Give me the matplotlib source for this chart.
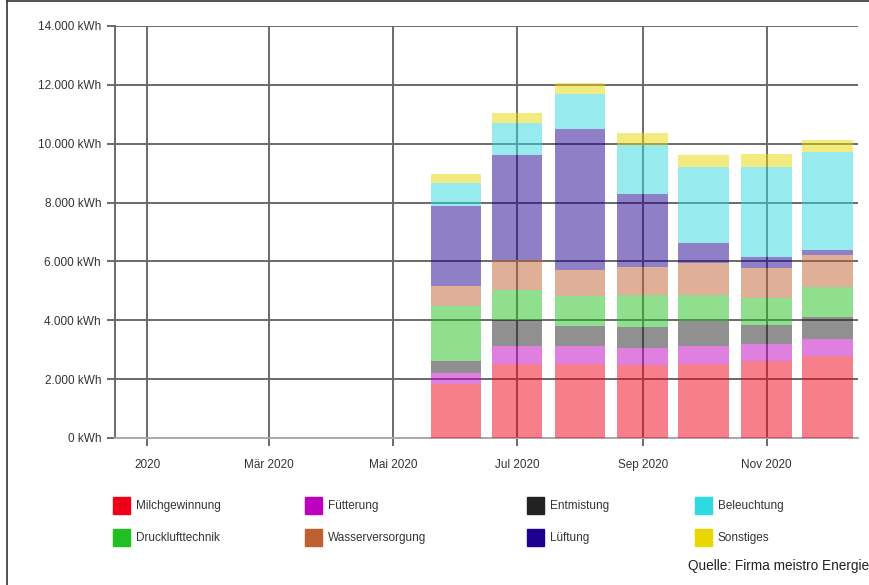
from datetime import datetime

import matplotlib
matplotlib.use('Agg')
import matplotlib.pyplot as plt
from matplotlib.lines import Line2D
from matplotlib.patches import Rectangle

# monthly energy use per consumer group (kWh), bars Jun..Dec 2020
months = [datetime(2020, m, 1) for m in range(6, 13)]
categories = ['Milchgewinnung', 'Fütterung', 'Entmistung', 'Drucklufttechnik',
              'Wasserversorgung', 'Lüftung', 'Beleuchtung', 'Sonstiges']

milch = [1850, 2520, 2520, 2480, 2520, 2600, 2780]
fuetterung = [350, 620, 590, 570, 620, 600, 590]
entmistung = [420, 880, 710, 720, 820, 650, 740]
druckluft = [1860, 1000, 990, 1100, 910, 920, 1020]
wasser = [670, 1020, 910, 940, 1060, 1020, 1100]
lueftung = [2730, 3590, 4780, 2470, 700, 360, 170]
beleuchtung = [780, 1060, 1200, 1680, 2570, 3050, 3330]
sonstiges = [320, 340, 350, 400, 400, 440, 400]

series = [milch, fuetterung, entmistung, druckluft, wasser, lueftung, beleuchtung, sonstiges]
colors = ['#f00018', '#c000c0', '#222222', '#20c020',
          '#c06030', '#200090', '#30d8e0', '#e8d800']

x_ticks = [datetime(2020, m, 1) for m in (1, 3, 5, 7, 9, 11)]
x_labels = ['2020', 'Mär 2020', 'Mai 2020', 'Jul 2020', 'Sep 2020', 'Nov 2020']
y_ticks = list(range(0, 14001, 2000))
y_labels = ['0 kWh', '2.000 kWh', '4.000 kWh', '6.000 kWh', '8.000 kWh',
            '10.000 kWh', '12.000 kWh', '14.000 kWh']

plt.rcParams['font.family'] = ['Liberation Sans', 'DejaVu Sans']

fig = plt.figure(figsize=(8.7, 5.85), dpi=100)
ax = fig.add_axes([115 / 870, 1 - 438 / 585, 743 / 870, 412 / 585])

bottom = [0] * len(months)
for vals, col in zip(series, colors):
    ax.bar(months, vals, width=25, bottom=bottom, color=col, alpha=0.5,
           edgecolor='none', zorder=3)
    bottom = [b + v for b, v in zip(bottom, vals)]

ax.set_xlim(datetime(2019, 12, 16), datetime(2020, 12, 16))
ax.set_ylim(0, 14000)
ax.set_xticks(x_ticks)
ax.set_xticklabels(x_labels)
ax.set_yticks(y_ticks)
ax.set_yticklabels(y_labels)

ax.grid(True, color='#6a6a6a', linewidth=1.4, zorder=0)
for side in ('top', 'right'):
    ax.spines[side].set_visible(False)
ax.spines['left'].set_color('#6a6a6a')
ax.spines['left'].set_linewidth(1.4)
ax.spines['bottom'].set_color('#aaaaaa')
ax.spines['bottom'].set_linewidth(1.4)
ax.tick_params(axis='both', colors='#6a6a6a', labelcolor='#333333',
               labelsize=8.5, length=6, width=1.4)
ax.tick_params(axis='x', pad=9)
ax.tick_params(axis='y', pad=4)

# legend laid out by hand (uneven column spacing in the original)
legend_cols = [113, 305, 527, 695]
legend_rows = [506, 538]
order = [[0, 1, 2, 6], [3, 4, 5, 7]]
for r, row in enumerate(order):
    for c, idx in enumerate(row):
        x0 = legend_cols[c] / 870
        y0 = 1 - legend_rows[r] / 585
        fig.patches.append(Rectangle((x0, y0 - 8 / 585), 17 / 870, 17 / 585,
                                     transform=fig.transFigure, color=colors[idx],
                                     zorder=5))
        fig.text(x0 + 23 / 870, y0, categories[idx], fontsize=8.5,
                 color='#333333', va='center', ha='left')

fig.text(869 / 870, 1 - 566 / 585, 'Quelle: Firma meistro Energie',
         fontsize=9.8, color='#222222', ha='right', va='center')

# outer frame (left and top edges)
fig.lines.append(Line2D([7 / 870, 7 / 870], [0, 1 - 1 / 585],
                        transform=fig.transFigure, color='#333333', linewidth=1.2))
fig.lines.append(Line2D([7 / 870, 1], [1 - 1 / 585, 1 - 1 / 585],
                        transform=fig.transFigure, color='#333333', linewidth=1.2))

fig.savefig('out.png', dpi=100)
